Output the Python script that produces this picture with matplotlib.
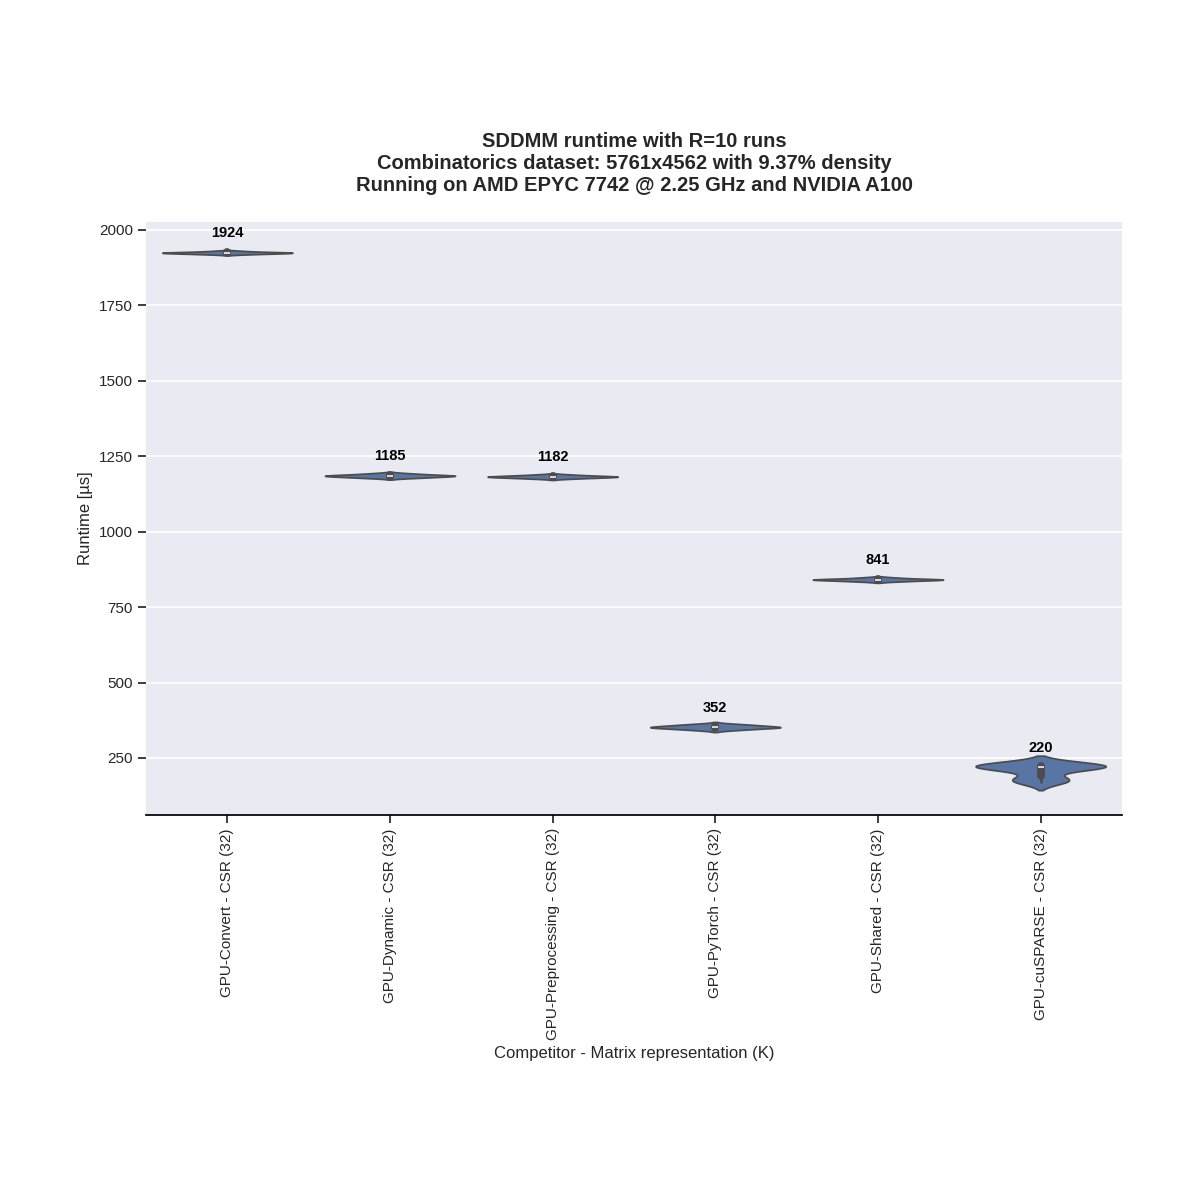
import numpy as np
import pandas as pd
import matplotlib
matplotlib.use("Agg")
import matplotlib.pyplot as plt
import seaborn as sns

# runtimes in microseconds, R=10 runs each
competitors = ["GPU-Convert - CSR (32)", "GPU-Dynamic - CSR (32)",
               "GPU-Preprocessing - CSR (32)", "GPU-PyTorch - CSR (32)",
               "GPU-Shared - CSR (32)", "GPU-cuSPARSE - CSR (32)"]
convert_runs = [1919, 1921, 1922, 1923, 1924, 1924, 1925, 1926, 1927, 1930]
dynamic_runs = [1178, 1180, 1182, 1184, 1185, 1185, 1186, 1188, 1190, 1193]
preproc_runs = [1176, 1178, 1180, 1181, 1182, 1182, 1183, 1185, 1186, 1189]
pytorch_runs = [343, 346, 349, 351, 352, 352, 354, 357, 359, 362]
shared_runs = [835, 837, 839, 840, 841, 841, 842, 843, 845, 848]
cusparse_runs = [172, 176, 181, 217, 219, 221, 222, 224, 226, 229]

all_runs = [convert_runs, dynamic_runs, preproc_runs, pytorch_runs, shared_runs, cusparse_runs]

rows = []
for name, runs in zip(competitors, all_runs):
    for r in runs:
        rows.append({"competitor": name, "runtime": r})
df = pd.DataFrame(rows)

sns.set_theme(style="darkgrid")
plt.rcParams['font.family'] = ['Liberation Sans', 'DejaVu Sans']

fig = plt.figure(figsize=(12, 12), dpi=100)
ax = fig.add_axes([146/1200, 1 - 815/1200, (1122 - 146)/1200, (815 - 222)/1200])

sns.violinplot(data=df, x="competitor", y="runtime", order=competitors,
               density_norm="width", ax=ax)

# median labels
for i, runs in enumerate(all_runs):
    med = np.median(runs)
    ax.text(i, med + 64, "{:.0f}".format(med), ha="center", va="center",
            fontsize=10.5, fontweight="bold", color="black")

ax.set_ylim(61, 2026)
ax.set_xlim(-0.5, 5.5)
ax.set_yticks([250, 500, 750, 1000, 1250, 1500, 1750, 2000])
ax.grid(axis="x", visible=False)
ax.grid(axis="y", color="white", linewidth=1.2)

for s in ["top", "right", "left"]:
    ax.spines[s].set_visible(False)
ax.spines["bottom"].set_visible(True)
ax.spines["bottom"].set_color("black")
ax.spines["bottom"].set_linewidth(1.25)

ax.tick_params(axis="both", length=6, width=1.25, color="#262626",
               left=True, bottom=True, labelsize=11, labelcolor="#262626")
plt.setp(ax.get_xticklabels(), rotation=90)

ax.set_xlabel("Competitor - Matrix representation (K)", fontsize=12, color="#262626")
ax.set_ylabel("Runtime [µs]", fontsize=12, color="#262626")
ax.set_title("SDDMM runtime with R=10 runs\n"
             "Combinatorics dataset: 5761x4562 with 9.37% density\n"
             "Running on AMD EPYC 7742 @ 2.25 GHz and NVIDIA A100",
             fontsize=14.5, fontweight="bold", color="#262626", pad=22)

fig.savefig("out.png", dpi=100)
